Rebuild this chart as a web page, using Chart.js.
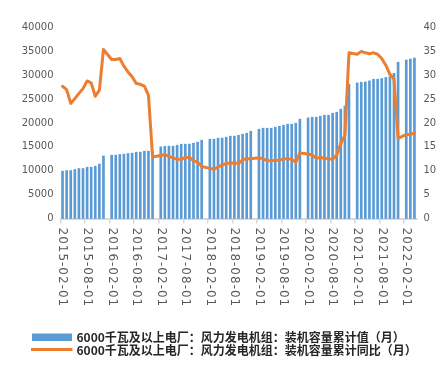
<!DOCTYPE html>
<html><head><meta charset="utf-8">
<script src="https://cdn.jsdelivr.net/npm/chart.js@4/dist/chart.umd.min.js"></script>
<style>html,body{margin:0;padding:0;background:#fff;overflow:hidden}</style>
</head><body>
<canvas id="c" width="447" height="371"></canvas>
<script>
const categories = [
  '2015-02-01','2015-03-01','2015-04-01','2015-05-01','2015-06-01','2015-07-01','2015-08-01','2015-09-01','2015-10-01','2015-11-01','2015-12-01',
  '2016-01-01','2016-02-01','2016-03-01','2016-04-01','2016-05-01','2016-06-01','2016-07-01','2016-08-01','2016-09-01','2016-10-01','2016-11-01','2016-12-01',
  '2017-01-01','2017-02-01','2017-03-01','2017-04-01','2017-05-01','2017-06-01','2017-07-01','2017-08-01','2017-09-01','2017-10-01','2017-11-01','2017-12-01',
  '2018-01-01','2018-02-01','2018-03-01','2018-04-01','2018-05-01','2018-06-01','2018-07-01','2018-08-01','2018-09-01','2018-10-01','2018-11-01','2018-12-01',
  '2019-01-01','2019-02-01','2019-03-01','2019-04-01','2019-05-01','2019-06-01','2019-07-01','2019-08-01','2019-09-01','2019-10-01','2019-11-01','2019-12-01',
  '2020-01-01','2020-02-01','2020-03-01','2020-04-01','2020-05-01','2020-06-01','2020-07-01','2020-08-01','2020-09-01','2020-10-01','2020-11-01','2020-12-01',
  '2021-01-01','2021-02-01','2021-03-01','2021-04-01','2021-05-01','2021-06-01','2021-07-01','2021-08-01','2021-09-01','2021-10-01','2021-11-01','2021-12-01',
  '2022-01-01','2022-02-01','2022-03-01','2022-04-01'
];
const tickLabels = ['2015-02-01','2015-08-01','2016-02-01','2016-08-01','2017-02-01','2017-08-01','2018-02-01','2018-08-01','2019-02-01','2019-08-01','2020-02-01','2020-08-01','2021-02-01','2021-08-01','2022-02-01'];
const capacity = [
  9900,10050,10050,10260,10470,10470,10740,10740,10950,11400,13100,
  null,13260,13260,13400,13470,13610,13680,13890,13890,14100,14100,14150,
  null,15000,15100,15150,15150,15350,15560,15560,15580,15770,15980,16400,
  null,16610,16610,16820,16850,17030,17240,17240,17440,17650,17860,18280,
  null,18700,18910,18910,18910,19120,19330,19540,19750,19750,19960,20800,
  null,21070,21210,21210,21420,21630,21630,22050,22260,22890,23520,28130,
  null,28400,28540,28610,28820,29170,29170,29320,29530,29700,30400,32730,
  null,33200,33400,33600
];
const yoy = [
  27.7,27.0,24.1,25.1,26.2,27.2,28.8,28.4,25.6,26.9,35.4,
  null,33.3,33.3,33.5,31.9,30.7,29.7,28.3,28.1,27.7,25.8,12.9,
  null,13.2,13.4,13.0,12.7,12.4,12.4,12.8,12.8,12.1,11.8,10.9,
  null,10.5,10.3,10.8,11.2,11.5,11.6,11.6,11.5,12.3,12.5,12.5,
  null,12.7,12.5,12.1,12.1,12.2,12.2,12.5,12.5,12.4,11.8,13.7,
  null,13.5,13.3,12.6,12.8,12.6,12.5,12.4,13.3,15.7,17.4,34.7,
  null,34.4,35.0,34.7,34.5,34.7,34.4,33.5,32.1,30.2,29.2,16.8,
  null,17.6,17.6,17.9
];
const seriesNames = ['6000千瓦及以上电厂：风力发电机组：装机容量累计值（月）','6000千瓦及以上电厂：风力发电机组：装机容量累计同比（月）'];
const BLUE = '#5B9BD5', ORANGE = '#ED7D31';

const customDraw = {
  id: 'customDraw',
  afterDraw(chart) {
    const ctx = chart.ctx;
    const xs = chart.scales.x;
    ctx.save();
    ctx.fillStyle = '#595959';
    ctx.font = '12px "DejaVu Sans"';
    if ('letterSpacing' in ctx) ctx.letterSpacing = '1px';
    ctx.textAlign = 'left';
    ctx.textBaseline = 'middle';
    tickLabels.forEach(lbl => {
      const i = categories.indexOf(lbl);
      const x = xs.getPixelForValue(i);
      ctx.save();
      ctx.translate(x, xs.top + 9);
      ctx.rotate(Math.PI / 2);
      ctx.fillText(lbl, 0, 0);
      ctx.restore();
    });
    ctx.restore();
    ctx.save();
    if ('letterSpacing' in ctx) ctx.letterSpacing = '0px';
    ctx.fillStyle = BLUE;
    ctx.fillRect(32, 333.5, 40, 7.5);
    ctx.strokeStyle = ORANGE;
    ctx.lineWidth = 3;
    ctx.beginPath(); ctx.moveTo(31, 349.5); ctx.lineTo(72.5, 349.5); ctx.stroke();
    ctx.fillStyle = '#262626';
    ctx.font = 'bold 12px "Noto Sans CJK SC"';
    ctx.textAlign = 'left';
    ctx.textBaseline = 'middle';
    ctx.fillText(seriesNames[0], 76.5, 337.5);
    ctx.fillText(seriesNames[1], 76.5, 350.5);
    ctx.restore();
  }
};

new Chart(document.getElementById('c'), {
  type: 'bar',
  data: {
    labels: categories,
    datasets: [
      { type: 'line', label: seriesNames[1], data: yoy, yAxisID: 'y1', borderColor: ORANGE, backgroundColor: ORANGE,
        borderWidth: 3, pointRadius: 0, tension: 0, spanGaps: true, order: 0, clip: false,
        borderJoinStyle: 'round', borderCapStyle: 'round' },
      { type: 'bar', label: seriesNames[0], data: capacity, yAxisID: 'y', backgroundColor: BLUE,
        barThickness: 2, order: 1, clip: false }
    ]
  },
  options: {
    responsive: false, animation: false, devicePixelRatio: 1,
    layout: { padding: { top: 27.5, left: 0, right: 0, bottom: 0 } },
    plugins: { legend: { display: false }, tooltip: { enabled: false } },
    scales: {
      x: {
        offset: true,
        grid: { display: true, drawOnChartArea: false, drawTicks: true, tickLength: 5, offset: true, lineWidth: 1.5,
          color: c => (c.index % 6 === 0 ? '#d9d9d9' : 'rgba(0,0,0,0)') },
        border: { display: true, color: '#d9d9d9', width: 2 },
        ticks: { display: false },
        afterFit: s => { s.height = 371 - 218.5; }
      },
      y: {
        position: 'left', min: 0, max: 40000,
        grid: { display: false, drawTicks: false },
        border: { display: false },
        ticks: { stepSize: 5000, padding: 7, color: '#595959', font: { family: 'DejaVu Sans', size: 10 }, callback: v => String(v) },
        afterFit: s => { s.width = 60.5; }
      },
      y1: {
        position: 'right', min: 0, max: 40,
        grid: { display: false, drawTicks: false },
        border: { display: false },
        ticks: { stepSize: 5, padding: 7, color: '#595959', font: { family: 'DejaVu Sans', size: 10 }, callback: v => String(v) },
        afterFit: s => { s.width = 30.5; }
      }
    }
  },
  plugins: [customDraw]
});
</script>
</body></html>
